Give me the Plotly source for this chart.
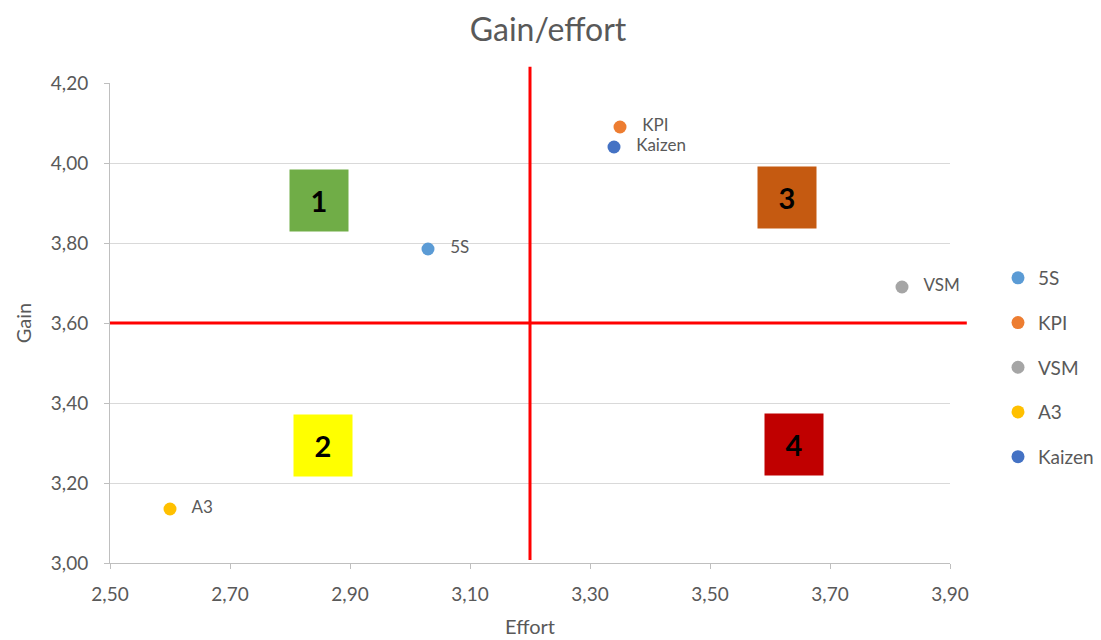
import plotly.graph_objects as go

names = ["5S", "KPI", "VSM", "A3", "Kaizen"]
effort = [3.03, 3.35, 3.82, 2.60, 3.34]
gain = [3.785, 4.09, 3.69, 3.135, 4.04]
colors = ["#5b9bd5", "#ed7d31", "#a5a5a5", "#ffc000", "#4472c4"]

x_ticks = [2.50, 2.70, 2.90, 3.10, 3.30, 3.50, 3.70, 3.90]
y_ticks = [3.00, 3.20, 3.40, 3.60, 3.80, 4.00, 4.20]

effort_split = 3.20
gain_split = 3.60

quad_labels = ["1", "2", "3", "4"]
quad_colors = ["#70ad47", "#ffff00", "#c55a11", "#c00000"]
quad_x = [2.848, 2.855, 3.628, 3.64]
quad_y = [3.9075, 3.294, 3.915, 3.2975]

FONT = "Lato, 'Open Sans', sans-serif"
GREY = "#595959"

fig = go.Figure()
for i, n in enumerate(names):
    fig.add_trace(go.Scatter(
        x=[effort[i]], y=[gain[i]], name=n, mode="markers+text",
        text=["   " + n], textposition="middle right",
        textfont=dict(size=17, color=GREY, family=FONT),
        marker=dict(size=13, color=colors[i]),
        legendgroup=n, cliponaxis=False,
    ))

shapes = [
    dict(type="line", xref="x", yref="paper", x0=effort_split, x1=effort_split,
         y0=0.006, y1=1.034, line=dict(color="#ff0000", width=3), layer="above"),
    dict(type="line", xref="paper", yref="y", x0=0, x1=1.02,
         y0=gain_split, y1=gain_split, line=dict(color="#ff0000", width=3), layer="above"),
]

annotations = []
for lab, c, qx, qy in zip(quad_labels, quad_colors, quad_x, quad_y):
    annotations.append(dict(
        x=qx, y=qy, xref="x", yref="y", text="<b>" + lab + "</b>", showarrow=False,
        bgcolor=c, width=58, height=61, font=dict(size=29, color="black", family=FONT),
        borderpad=0,
    ))

fig.update_layout(
    width=1093, height=632,
    margin=dict(l=102, r=151, t=75, b=77, autoexpand=False),
    paper_bgcolor="white", plot_bgcolor="white",
    separators=",.",
    title=dict(text="Gain/effort", x=540 / 1093, xanchor="center", xref="container",
               y=1 - 22 / 632, yanchor="middle",
               font=dict(size=32, color=GREY, family=FONT)),
    xaxis=dict(range=[2.5, 3.9], tickvals=x_ticks, tickformat=".2f",
               showgrid=False, zeroline=False, showline=True, linecolor="#bfbfbf", linewidth=1,
               ticks="outside", ticklen=5, tickcolor="#bfbfbf", ticklabelstandoff=9,
               tickfont=dict(size=19, color=GREY, family=FONT),
               title=dict(text="Effort", font=dict(size=20, color=GREY, family=FONT), standoff=16)),
    yaxis=dict(range=[3.0, 4.2], tickvals=y_ticks, tickformat=".2f",
               showgrid=True, gridcolor="#d9d9d9", gridwidth=1, zeroline=False,
               showline=True, linecolor="#bfbfbf", linewidth=1,
               ticks="outside", ticklen=5, tickcolor="#bfbfbf", ticklabelstandoff=12,
               tickfont=dict(size=19, color=GREY, family=FONT),
               title=dict(text="Gain", font=dict(size=20, color=GREY, family=FONT), standoff=13)),
    legend=dict(xref="container", yref="container", x=990 / 1093, xanchor="left",
                y=1 - 251 / 632, yanchor="top", tracegroupgap=17,
                font=dict(size=19, color=GREY, family=FONT), itemwidth=30),
    shapes=shapes, annotations=annotations,
)
fig.write_html("out.html")
